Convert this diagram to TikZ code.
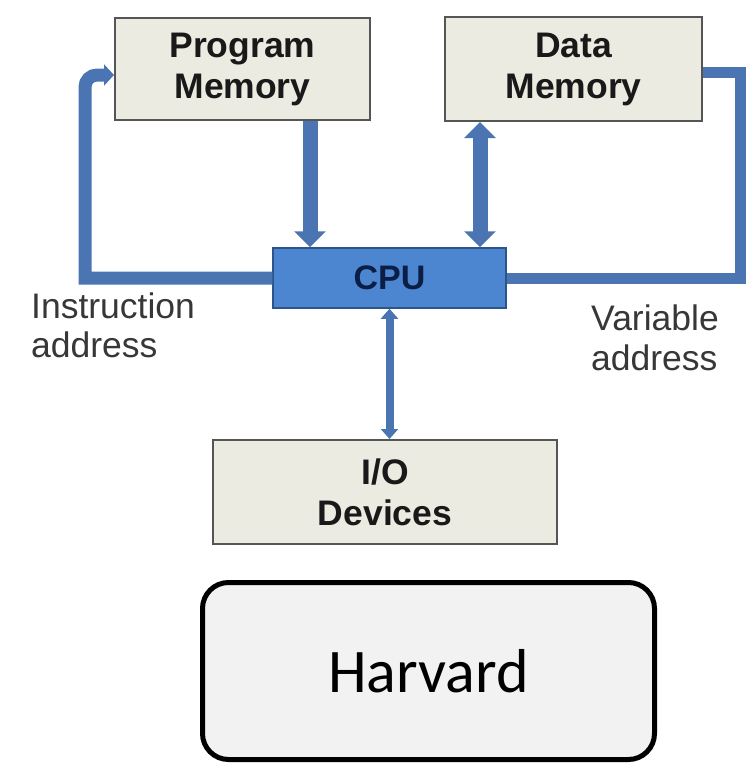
\documentclass[tikz,border=0pt]{standalone}
\usepackage{fontspec}
\setmainfont{Liberation Sans}
\newfontfamily\calibrilike{Carlito}
\usetikzlibrary{arrows.meta,calc}

\definecolor{boxfill}{RGB}{236,235,226}
\definecolor{boxline}{RGB}{85,85,85}
\definecolor{cpufill}{RGB}{76,134,208}
\definecolor{cpuline}{RGB}{45,85,140}
\definecolor{cputext}{RGB}{10,30,70}
\definecolor{busblue}{RGB}{74,116,178}
\definecolor{labelgray}{RGB}{55,55,55}
\definecolor{harvfill}{RGB}{242,242,242}

\tikzset{
  membox/.style={draw=boxline, line width=2pt, fill=boxfill, align=center,
    inner sep=0pt, text=black!90,
    font=\bfseries\fontsize{35.5}{41}\selectfont},
  cpubox/.style={draw=cpuline, line width=1.5pt, fill=cpufill, inner sep=0pt,
    text=cputext, font=\bfseries\fontsize{34}{40}\selectfont},
  sidelabel/.style={inner sep=0pt, anchor=base west, text=labelgray,
    font=\fontsize{35.5}{39}\selectfont},
  widebus/.style={draw=busblue, line width=15pt},
  databus/.style={widebus, {Triangle[width=31pt,length=16pt]}-{Triangle[width=31pt,length=16pt]}},
  codebus/.style={widebus, -{Triangle[width=31pt,length=16pt]}},
  iobus/.style={draw=busblue, line width=8pt,
    {Triangle[width=17pt,length=10pt]}-{Triangle[width=17pt,length=10pt]}},
  addrbus/.style={draw=busblue, line width=13pt},
  harvbox/.style={draw=black, line width=5pt, fill=harvfill, rounded corners=26pt,
    inner sep=0pt, font=\calibrilike\fontsize{62}{70}\selectfont},
}

\begin{document}
\begin{tikzpicture}[x=1pt,y=1pt]
\useasboundingbox (0,0) rectangle (751,-764);

% memories, processor and peripherals
\node[membox, minimum width=255pt, minimum height=102pt] (pm) at (242.5,-69) {Program\\Memory};
\node[membox, minimum width=257pt, minimum height=104pt] (dm) at (573.5,-69) {Data\\Memory};
\node[cpubox, minimum width=233pt, minimum height=60pt] (cpu) at (389.5,-278) {CPU};
\node[membox, minimum width=344pt, minimum height=104pt] (io) at (385,-492) {I/O\\Devices};

% instruction and data buses
\draw[codebus] ([xshift=67.5pt]pm.south) -- ([xshift=67.5pt]pm.south |- cpu.north);
\draw[databus] ([xshift=-93.5pt]dm.south) -- ([xshift=-93.5pt]dm.south |- cpu.north);
\draw[iobus] (cpu.south) -- (cpu.south |- io.north);

% address loops
\coordinate (lc) at (85,-75);
\draw[addrbus, -{Triangle[width=21pt,length=10pt]}]
  (cpu.west) -- (cpu.west -| lc) -- ([yshift=-12pt]lc) arc[start angle=180, end angle=90, radius=12pt]
  -- (lc -| pm.west);
\coordinate (rc) at (740,-72);
\draw[addrbus, line width=11pt] (rc -| dm.east) -- (rc) -- (rc |- cpu.east) -- (cpu.east);

% bus captions
\node[sidelabel] (ia1) at (31,-318) {Instruction};
\node[sidelabel] (ia2) at (31,-357) {address};
\node[sidelabel] (va1) at (591,-330) {Variable};
\node[sidelabel] (va2) at (591,-370) {address};

% architecture name
\node[harvbox, minimum width=452pt, minimum height=177pt] (hv) at (428.5,-671) {Harvard};
\end{tikzpicture}
\end{document}
